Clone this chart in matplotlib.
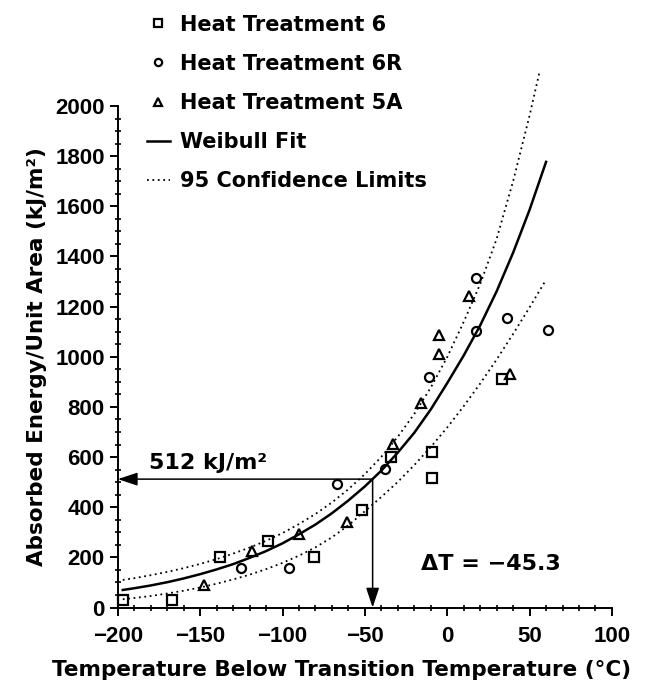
import numpy as np
import matplotlib
matplotlib.use('Agg')
import matplotlib.pyplot as plt
from matplotlib.ticker import MultipleLocator

plt.rcParams['font.family'] = ['DejaVu Sans']
plt.rcParams['font.weight'] = 'bold'

# measured impact energies
ht6_x = [-197, -167, -138, -109, -81, -52, -34, -9.5, -9.5, 33]
ht6_y = [32, 29, 203, 264, 203, 388, 602, 621, 516, 913]

ht6r_x = [-125, -96, -67, -38, -11, 17.5, 17.5, 36, 61]
ht6r_y = [156, 156, 492, 551, 920, 1314, 1104, 1156, 1105]

ht5a_x = [-147.5, -118.5, -90, -61, -33, -16, -5, -5, 13.5, 38]
ht5a_y = [89, 227, 293, 343, 654, 816, 1012, 1088, 1241, 933]

# weibull fit and 95% limits, read every 10 deg
fit_x = [-197, -190, -180, -170, -160, -150, -140, -130, -120, -110, -100,
         -90, -80, -70, -60, -50, -40, -30, -20, -10, 0, 10, 20, 30, 40, 50, 60]
fit_y = [70, 77, 88, 101, 116, 133, 152, 173, 198, 225, 256,
         292, 331, 376, 427, 483, 546, 618, 697, 790, 895, 1005, 1125, 1261, 1415, 1586, 1777]

upper_x = [-197, -190, -180, -170, -160, -150, -140, -130, -120, -110, -100,
           -90, -80, -70, -60, -50, -40, -30, -20, -10, 0, 10, 20, 30, 40, 50, 56]
upper_y = [110, 117, 129, 142, 157, 174, 193, 215, 239, 266, 297,
           333, 373, 419, 472, 532, 601, 681, 772, 877, 999, 1139, 1290, 1470, 1700, 1962, 2135]

lower_x = [-197, -190, -180, -170, -160, -150, -140, -130, -120, -110, -100,
           -90, -80, -70, -60, -50, -40, -30, -20, -10, 0, 10, 20, 30, 40, 50, 60]
lower_y = [33, 38, 46, 56, 67, 80, 95, 112, 131, 153, 178,
           207, 240, 280, 328, 384, 441, 501, 568, 640, 718, 803, 893, 989, 1091, 1197, 1307]

dT = -45.3
E_dT = 512

fig = plt.figure(figsize=(6.51, 6.85), dpi=100)
ax = fig.add_axes([0.181, 0.1131, 0.759, 0.7322])

mk = dict(linestyle='none', mfc='none', mec='black', ms=6.5, mew=1.6, clip_on=False)
ax.plot(ht6_x, ht6_y, marker='s', label='Heat Treatment 6', **mk)
ax.plot(ht6r_x, ht6r_y, marker='o', label='Heat Treatment 6R', **mk)
ax.plot(ht5a_x, ht5a_y, marker='^', label='Heat Treatment 5A', **mk)
ax.plot(fit_x, fit_y, color='black', lw=1.8, label='Weibull Fit', clip_on=False)
ax.plot(upper_x, upper_y, color='black', lw=1.3, ls=(0, (1, 2)),
        label='95 Confidence Limits', clip_on=False)
ax.plot(lower_x, lower_y, color='black', lw=1.3, ls=(0, (1, 2)), clip_on=False)

# arrows to the axes at the transition point
arr = dict(arrowstyle='-|>,head_length=0.6,head_width=0.2', color='black',
           lw=1.1, shrinkA=0, shrinkB=0, mutation_scale=20)
ax.annotate('', xy=(-200, E_dT), xytext=(dT, E_dT), arrowprops=arr)
ax.annotate('', xy=(dT, 0), xytext=(dT, E_dT), arrowprops=arr)
ax.text(-181, 577, '512 kJ/m²', fontsize=16, va='center', ha='left')
ax.text(-16, 175, 'ΔT = −45.3', fontsize=16, va='center', ha='left')

ax.set_xlim(-200, 100)
ax.set_ylim(0, 2000)
ax.xaxis.set_major_locator(MultipleLocator(50))
ax.xaxis.set_minor_locator(MultipleLocator(10))
ax.yaxis.set_major_locator(MultipleLocator(200))
ax.yaxis.set_minor_locator(MultipleLocator(50))
ax.spines['top'].set_visible(False)
ax.spines['right'].set_visible(False)
ax.spines['left'].set_linewidth(1.4)
ax.spines['bottom'].set_linewidth(1.4)
ax.tick_params(which='major', direction='out', length=6, width=1.4, labelsize=16)
ax.tick_params(axis='x', which='major', pad=7)
ax.tick_params(which='minor', direction='inout', length=5, width=1.2)
for lab in ax.get_xticklabels() + ax.get_yticklabels():
    lab.set_family('Liberation Sans')

ax.set_xlabel('Temperature Below Transition Temperature (°C)', fontsize=15.5,
              fontweight='bold')
ax.xaxis.set_label_coords(0.453, -0.105)
ax.set_ylabel('Absorbed Energy/Unit Area (kJ/m²)', fontsize=15.5,
              fontweight='bold', labelpad=6)

fig.legend(loc='upper left', bbox_to_anchor=(0.203, 1.0), frameon=False,
           fontsize=15, handlelength=1.1, handletextpad=0.5, labelspacing=0.92,
           borderpad=0.2, markerscale=0.8)

fig.savefig('out.png', dpi=100)
